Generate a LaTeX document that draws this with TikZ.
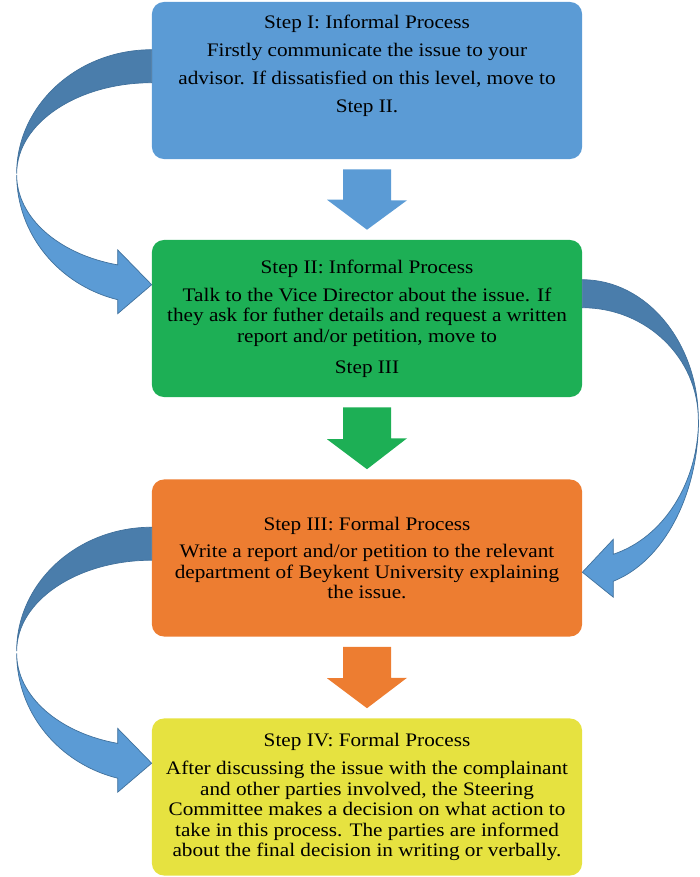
\documentclass[tikz,border=0pt]{standalone}
\usepackage{fontspec}
\setmainfont{Liberation Serif}[FakeStretch=1.11]
\usepackage{xcolor}

\definecolor{stepblue}{HTML}{5B9BD5}
\definecolor{stepgreen}{HTML}{1DAF55}
\definecolor{steporange}{HTML}{ED7D31}
\definecolor{stepyellow}{HTML}{E6E240}
\definecolor{arrowdark}{HTML}{4A7DAB}
\definecolor{arrowline}{HTML}{41719C}

\tikzset{
  stepbox/.style={rounded corners=0.3cm, minimum width=10.75cm, minimum height=3.925cm,
    align=center, inner sep=0pt, font=\fontsize{13.6}{14.58}\selectfont},
  arrowback/.style={fill=arrowdark, draw=arrowline, line width=0.5pt},
  arrowfront/.style={fill=stepblue, draw=arrowline, line width=0.5pt}
}

\begin{document}
\begin{tikzpicture}[x=0.025cm, y=0.025cm]
  \useasboundingbox (0,0) rectangle (699,-877);

  \node[stepbox, fill=stepblue] (s1) at (367,-80.5) {Step I: Informal Process\\[5.3pt]
    Firstly communicate the issue to your\\[5.3pt]
    advisor. If dissatisfied on this level, move to\\[6pt]
    Step II.\\[9.2pt]\mbox{}};
  \node[stepbox, fill=stepgreen] (s2) at (367,-318.5) {Step II: Informal Process\\[5.3pt]
    Talk to the Vice Director about the issue. If\\
    they ask for futher details and request a written\\
    report and/or petition, move to\\[7.5pt]
    Step III};
  \node[stepbox, fill=steporange] (s3) at (367,-558) {Step III: Formal Process\\[5.3pt]
    Write a report and/or petition to the relevant\\
    department of Beykent University explaining\\
    the issue.};
  \node[stepbox, fill=stepyellow] (s4) at (367,-797) {Step IV: Formal Process\\[5.3pt]
    After discussing the issue with the complainant\\
    and other parties involved, the Steering\\
    Committee makes a decision on what action to\\
    take in this process. The parties are informed\\
    about the final decision in writing or verbally.};

  % straight arrows between the steps
  \foreach \a/\b/\c in {s1/s2/stepblue, s2/s3/stepgreen, s3/s4/steporange}
    \fill[\c] ([shift={(-24,-10)}]\a.south) -- ++(48,0) -- ++(0,-31) -- ++(16,0)
      -- ([yshift=0.25cm]\b.north) -- ++(-40,30) -- ++(16,0) -- cycle;

  % curved arrows on the left
  \foreach \a/\b in {s1/s2, s3/s4}{
    \filldraw[arrowback] ([yshift=-1.2cm]\a.north west)
      arc[start angle=90, end angle=180, x radius=135, y radius=124]
      arc[start angle=180, end angle=90, x radius=135, y radius=91] -- cycle;
    \filldraw[arrowfront] ([yshift=-1.125cm]\b.north west) -- ++(-34,-29) -- ++(0,14)
      arc[start angle=-104.6, end angle=-180, x radius=135, y radius=129]
      arc[start angle=180, end angle=255.4, x radius=135, y radius=93] -- ++(0,15) -- cycle;
  }

  % curved arrow on the right
  \filldraw[arrowback] ([yshift=-1cm]s2.north east)
    arc[start angle=90, end angle=0, x radius=116, y radius=140]
    arc[start angle=0, end angle=90, x radius=116, y radius=112] -- cycle;
  \filldraw[arrowfront] ([yshift=-2.325cm]s3.north east) -- ++(31,-25) -- ++(0,16)
    arc[start angle=-74.6, end angle=0, x radius=116, y radius=168]
    arc[start angle=0, end angle=-74.6, x radius=116, y radius=140] -- ++(0,15) -- cycle;
\end{tikzpicture}
\end{document}
